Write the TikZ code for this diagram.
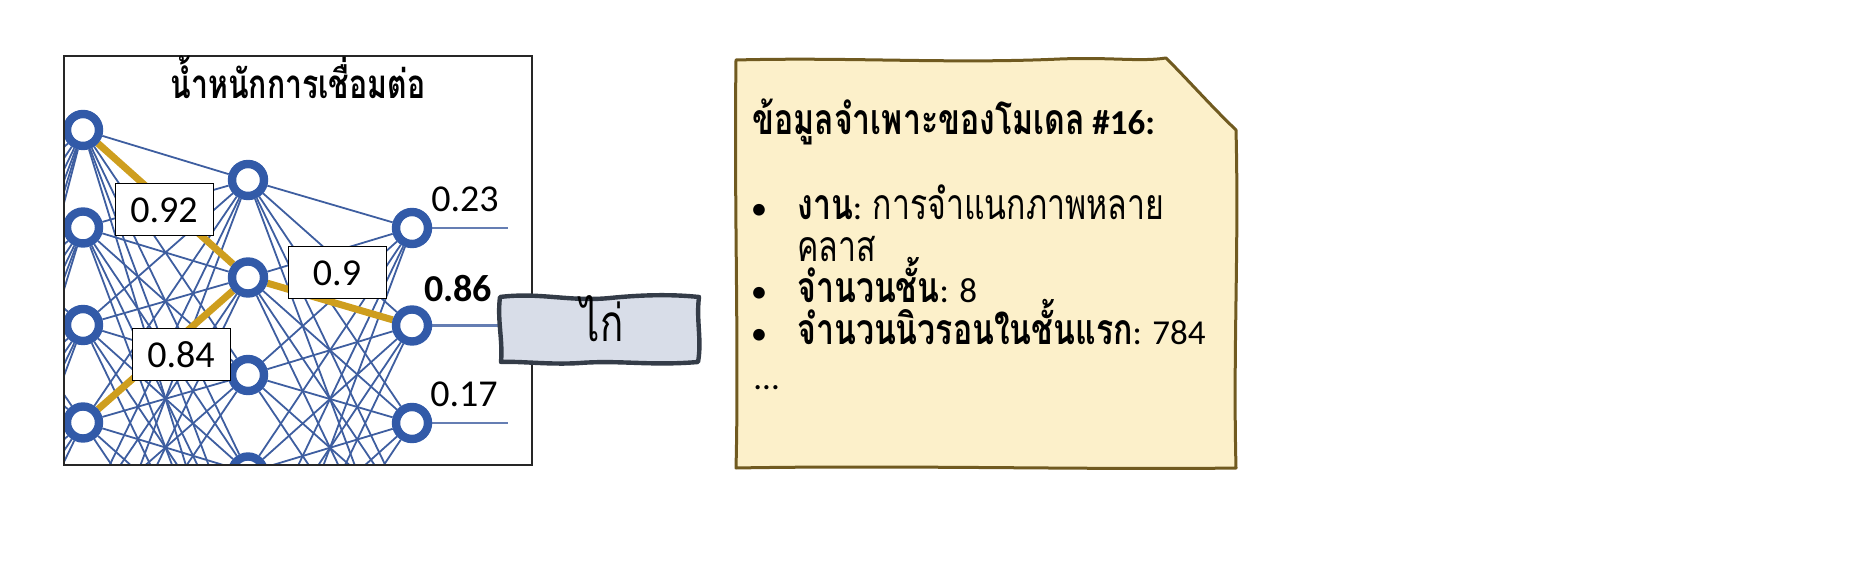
\documentclass[tikz,border=0pt]{standalone}
\usepackage{fontspec}
\setmainfont{Carlito}
\newfontfamily\thaifont[Script=Thai, Scale=1.22, FakeStretch=0.75]{Loma}
\usetikzlibrary{positioning}
\pgfdeclarelayer{background}
\pgfsetlayers{background,main}
\definecolor{netblue}{RGB}{50,90,168}
\definecolor{wireblue}{RGB}{62,94,160}
\definecolor{pathgold}{RGB}{206,158,30}
\definecolor{notefill}{RGB}{252,240,202}
\definecolor{noteline}{RGB}{112,90,32}
\definecolor{tagfill}{RGB}{216,221,232}
\definecolor{tagline}{RGB}{52,60,72}

\begin{document}
\begin{tikzpicture}[x=0.5pt, y=-0.5pt,
  neuron/.style = {circle, draw=netblue, line width=4.2pt, fill=white,
    minimum size=16pt, inner sep=0pt},
  wire/.style = {draw=wireblue, line width=0.9pt},
  hot/.style = {draw=pathgold, line width=3.5pt},
  weight/.style = {draw, fill=white, line width=0.5pt, inner sep=0pt,
    minimum width=49pt, minimum height=26pt,
    font=\fontsize{19}{21}\selectfont},
  act/.style = {anchor=base, inner sep=0pt, font=\fontsize{19}{21}\selectfont},
  spec/.style = {anchor=base west, inner sep=0pt,
    font=\fontsize{17.5}{20}\selectfont},
  dot/.style = {anchor=base, inner sep=0pt, font=\fontsize{16.5}{18}\selectfont}]
  \useasboundingbox (0,0) rectangle (1855,576);

  \begin{scope}
    \clip (64,56) rectangle (532,465);
    \foreach \i in {0,...,6} \node[neuron] (pre\i) at (-82,180+97.5*\i) {};
    \foreach \i in {0,...,5} \node[neuron] (in\i) at (83,130+97.5*\i) {};
    \foreach \i in {0,...,5} \node[neuron] (hid\i) at (248,180+97.5*\i) {};
    \foreach \i in {0,...,4} \node[neuron] (out\i) at (412,228+97.5*\i) {};
  \end{scope}
  \begin{pgfonlayer}{background}
    \begin{scope}
      \clip (64,56) rectangle (532,465);
      \foreach \a in {0,...,6} \foreach \b in {0,...,5} \draw[wire] (pre\a) -- (in\b);
      \foreach \a in {0,...,5} \foreach \b in {0,...,5} \draw[wire] (in\a) -- (hid\b);
      \foreach \a in {0,...,5} \foreach \b in {0,...,4} \draw[wire] (hid\a) -- (out\b);
      \foreach \i in {0,1,2} {
        \coordinate (end\i) at (508,228+97.5*\i);
        \draw[wire, line width=1.3pt, draw=wireblue!80] (out\i) -- (end\i);
      }
      \draw[hot] (in0) -- (hid1);
      \draw[hot] (in3) -- (hid1);
      \draw[hot] (hid1) -- (out1);
    \end{scope}
  \end{pgfonlayer}

  \draw[line width=0.6pt, draw=black!85] (64,56) rectangle (532,465);
  \node[anchor=base, inner sep=0pt, font=\fontsize{16.5}{20}\selectfont\thaifont\bfseries]
    (wtitle) at (298,99) {น้ำหนักการเชื่อมต่อ};

  \node[weight] (w92) at (164,210) {0.92};
  \node[weight] (w90) at (337,273) {0.9};
  \node[weight] (w84) at (181,355) {0.84};

  \node[act] (p23) at (465,212) {0.23};
  \node[act, font=\fontsize{19}{21}\selectfont\bfseries] (p86) at (458,302) {0.86};
  \node[act] (p17) at (464,407) {0.17};

  \filldraw[fill=tagfill, draw=tagline, line width=2.2pt, line join=round]
    (500,297) .. controls (540,292) and (570,302) .. (610,298)
    .. controls (640,295) and (670,294) .. (699,297)
    .. controls (696,320) and (702,340) .. (698,362)
    .. controls (650,366) and (620,360) .. (580,363)
    .. controls (550,365) and (520,361) .. (501,362)
    .. controls (503,340) and (497,320) .. (500,297) -- cycle;
  \node[anchor=base, inner sep=0pt, font=\fontsize{21}{24}\selectfont\thaifont]
    (tag) at (602,342) {ไก่};

  \filldraw[fill=notefill, draw=noteline, line width=1.5pt, line join=round]
    (736,60) .. controls (850,57) and (950,64) .. (1060,59)
    .. controls (1110,57) and (1140,62) .. (1166,58)
    .. controls (1190,82) and (1210,105) .. (1236,130)
    .. controls (1239,250) and (1233,350) .. (1236,468)
    .. controls (1100,470) and (900,465) .. (736,468)
    .. controls (739,350) and (734,200) .. (736,60) -- cycle;

  \node[spec] (head) at (752,135) {{\thaifont\bfseries ข้อมูลจำเพาะของโมเดล} \textbf{\#16:}};
  \node[dot] (b1) at (759,220) {•};
  \node[spec] (t1) at (797,220) {{\thaifont\bfseries งาน}: {\thaifont การจำแนกภาพหลาย}};
  \node[spec] (t1b) at (797,262) {\thaifont คลาส};
  \node[dot] (b2) at (759,303) {•};
  \node[spec] (t2) at (797,303) {{\thaifont\bfseries จำนวนชั้น}: 8};
  \node[dot] (b3) at (759,345) {•};
  \node[spec] (t3) at (797,345) {{\thaifont\bfseries จำนวนนิวรอนในชั้นแรก}: 784};
  \node[spec] (more) at (753,390) {...};
\end{tikzpicture}
\end{document}
